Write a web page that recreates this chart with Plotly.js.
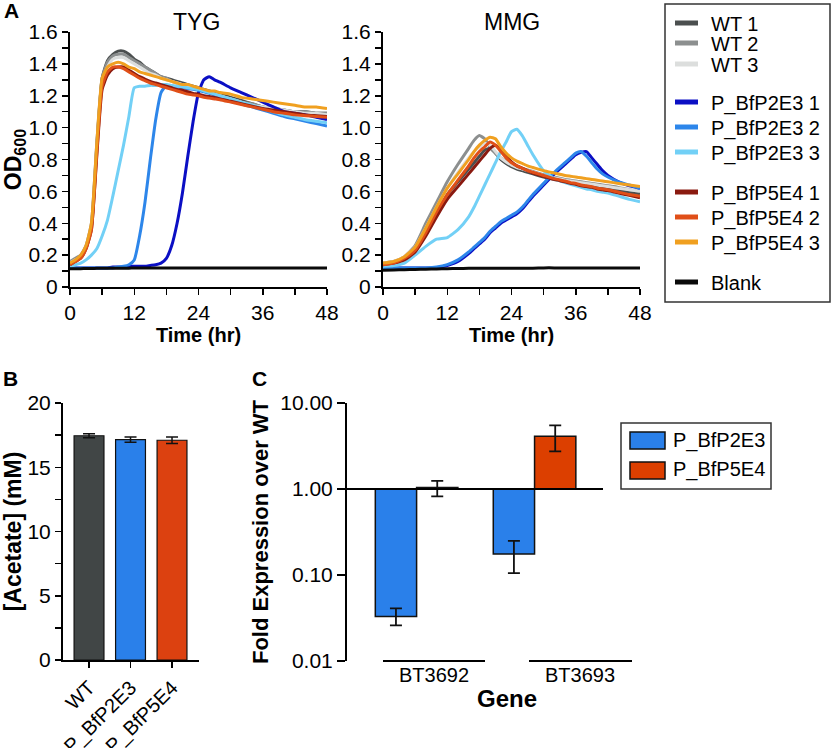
<!DOCTYPE html>
<html>
<head>
<meta charset="utf-8">
<script src="https://cdn.plot.ly/plotly-3.0.1.min.js"></script>
<style>html,body{margin:0;padding:0;background:#fff;}#chart{width:831px;height:748px;}</style>
</head>
<body>
<div id="chart"></div>
<script>
// ---------- DATA ----------
const seriesNames = ['WT 1','WT 2','WT 3','P_BfP2E3 1','P_BfP2E3 2','P_BfP2E3 3','P_BfP5E4 1','P_BfP5E4 2','P_BfP5E4 3','Blank'];

// Panel A, TYG medium (OD600 vs time, hr)
const tygTime = [0,1,2,3,4,5,6,7,8,9,10,11,12,13,14,15,16,17,18,19,20,21,22,23,24,25,26,27,28,30,32,34,36,38,40,42,44,46,48];
const tygWT1 = [0.15,0.17,0.19,0.25,0.38,0.88,1.31,1.42,1.46,1.48,1.48,1.46,1.43,1.41,1.38,1.36,1.34,1.32,1.31,1.30,1.29,1.28,1.27,1.26,1.25,1.24,1.23,1.22,1.21,1.19,1.17,1.15,1.13,1.12,1.11,1.10,1.10,1.09,1.09];
const tygWT2 = [0.16,0.18,0.20,0.26,0.40,0.90,1.31,1.41,1.45,1.46,1.46,1.44,1.42,1.40,1.38,1.36,1.34,1.32,1.31,1.29,1.28,1.27,1.26,1.25,1.24,1.23,1.22,1.21,1.20,1.18,1.16,1.15,1.13,1.12,1.11,1.10,1.10,1.09,1.09];
const tygWT3 = [0.15,0.17,0.19,0.25,0.38,0.86,1.28,1.38,1.43,1.44,1.44,1.42,1.40,1.38,1.36,1.34,1.33,1.31,1.30,1.29,1.28,1.27,1.26,1.25,1.24,1.23,1.22,1.21,1.20,1.18,1.16,1.14,1.13,1.12,1.11,1.10,1.09,1.09,1.08];
const tygP2E3_1 = [0.12,0.12,0.12,0.12,0.12,0.12,0.12,0.12,0.125,0.125,0.125,0.13,0.13,0.13,0.13,0.135,0.14,0.15,0.18,0.26,0.40,0.59,0.82,1.04,1.22,1.30,1.32,1.30,1.285,1.25,1.22,1.19,1.16,1.13,1.10,1.09,1.08,1.065,1.05];
const tygP2E3_2 = [0.12,0.12,0.12,0.12,0.12,0.12,0.12,0.12,0.12,0.125,0.13,0.14,0.17,0.32,0.53,0.80,1.05,1.22,1.265,1.26,1.255,1.25,1.245,1.24,1.235,1.225,1.215,1.205,1.195,1.175,1.15,1.13,1.11,1.09,1.07,1.055,1.04,1.025,1.01];
const tygP2E3_3 = [0.13,0.14,0.15,0.17,0.20,0.24,0.32,0.42,0.57,0.73,0.89,1.07,1.25,1.26,1.26,1.265,1.265,1.27,1.27,1.265,1.26,1.255,1.25,1.245,1.24,1.23,1.22,1.21,1.20,1.18,1.16,1.14,1.12,1.10,1.08,1.065,1.05,1.04,1.03];
const tygP5E4_1 = [0.14,0.16,0.18,0.24,0.36,0.82,1.24,1.33,1.37,1.38,1.38,1.36,1.34,1.32,1.305,1.29,1.28,1.27,1.26,1.25,1.24,1.235,1.225,1.215,1.21,1.20,1.195,1.19,1.18,1.165,1.15,1.135,1.12,1.11,1.10,1.09,1.08,1.075,1.07];
const tygP5E4_2 = [0.14,0.16,0.18,0.24,0.36,0.84,1.26,1.35,1.38,1.38,1.37,1.35,1.33,1.31,1.295,1.28,1.27,1.26,1.25,1.24,1.23,1.22,1.21,1.205,1.20,1.19,1.185,1.18,1.175,1.16,1.145,1.13,1.115,1.10,1.09,1.08,1.075,1.07,1.065];
const tygP5E4_3 = [0.15,0.17,0.20,0.26,0.40,0.90,1.31,1.38,1.40,1.41,1.40,1.38,1.37,1.35,1.34,1.33,1.32,1.31,1.30,1.29,1.28,1.27,1.27,1.26,1.25,1.24,1.23,1.23,1.22,1.21,1.19,1.18,1.17,1.16,1.15,1.14,1.13,1.13,1.12];
const tygBlank = [0.115,0.115,0.115,0.116,0.116,0.117,0.117,0.117,0.118,0.118,0.118,0.118,0.119,0.119,0.119,0.119,0.12,0.12,0.12,0.12,0.12,0.12,0.12,0.12,0.12,0.12,0.12,0.12,0.12,0.12,0.12,0.12,0.12,0.12,0.12,0.12,0.12,0.12,0.12];

// Panel A, MMG medium
const mmgTime = [0,2,4,6,8,10,12,14,16,17,18,19,20,21,22,23,24,25,26,27,28,30,32,34,35,36,37,38,39,40,41,42,44,46,48];
const mmgWT1 = [0.14,0.15,0.18,0.23,0.34,0.46,0.58,0.66,0.74,0.78,0.82,0.86,0.87,0.84,0.80,0.775,0.755,0.74,0.73,0.72,0.71,0.69,0.675,0.66,0.655,0.65,0.645,0.64,0.635,0.63,0.625,0.62,0.605,0.595,0.585];
const mmgWT2 = [0.15,0.16,0.19,0.26,0.40,0.53,0.66,0.77,0.87,0.92,0.95,0.93,0.88,0.84,0.81,0.79,0.77,0.755,0.745,0.735,0.725,0.705,0.69,0.675,0.67,0.665,0.66,0.655,0.65,0.645,0.64,0.635,0.625,0.61,0.60];
const mmgWT3 = [0.15,0.16,0.19,0.25,0.37,0.50,0.62,0.72,0.81,0.85,0.88,0.90,0.89,0.85,0.81,0.785,0.765,0.75,0.74,0.73,0.72,0.70,0.685,0.67,0.665,0.66,0.655,0.65,0.645,0.64,0.635,0.63,0.62,0.61,0.60];
const mmgP2E3_1 = [0.12,0.12,0.12,0.12,0.12,0.12,0.135,0.16,0.21,0.24,0.27,0.30,0.34,0.37,0.40,0.42,0.44,0.46,0.49,0.53,0.57,0.64,0.71,0.77,0.80,0.83,0.845,0.85,0.81,0.77,0.73,0.70,0.66,0.635,0.62];
const mmgP2E3_2 = [0.12,0.12,0.12,0.12,0.12,0.125,0.14,0.17,0.22,0.25,0.28,0.31,0.35,0.38,0.41,0.43,0.45,0.47,0.50,0.54,0.58,0.65,0.72,0.78,0.81,0.84,0.85,0.82,0.78,0.74,0.71,0.69,0.66,0.64,0.62];
const mmgP2E3_3 = [0.13,0.135,0.15,0.20,0.255,0.30,0.31,0.36,0.44,0.50,0.57,0.64,0.71,0.78,0.85,0.91,0.975,0.99,0.95,0.89,0.83,0.73,0.68,0.655,0.645,0.635,0.625,0.615,0.61,0.60,0.595,0.59,0.57,0.55,0.535];
const mmgP5E4_1 = [0.14,0.15,0.17,0.22,0.32,0.44,0.55,0.63,0.71,0.75,0.79,0.83,0.87,0.89,0.86,0.82,0.785,0.76,0.745,0.73,0.715,0.695,0.675,0.66,0.65,0.645,0.635,0.63,0.625,0.615,0.61,0.605,0.59,0.575,0.56];
const mmgP5E4_2 = [0.14,0.15,0.18,0.23,0.34,0.47,0.58,0.67,0.76,0.81,0.85,0.88,0.91,0.89,0.85,0.81,0.78,0.76,0.745,0.73,0.72,0.70,0.68,0.665,0.655,0.65,0.64,0.635,0.63,0.62,0.615,0.61,0.595,0.58,0.57];
const mmgP5E4_3 = [0.15,0.16,0.19,0.25,0.37,0.50,0.62,0.71,0.80,0.85,0.89,0.92,0.94,0.93,0.88,0.84,0.81,0.79,0.775,0.76,0.75,0.73,0.715,0.70,0.695,0.69,0.685,0.68,0.675,0.67,0.665,0.66,0.65,0.64,0.63];
const mmgBlank = [0.105,0.107,0.109,0.11,0.112,0.113,0.115,0.116,0.117,0.118,0.118,0.118,0.118,0.118,0.118,0.118,0.118,0.118,0.118,0.118,0.118,0.12,0.12,0.12,0.12,0.12,0.12,0.12,0.12,0.12,0.12,0.12,0.12,0.12,0.12];

// Panel B, acetate
const acetateStrains = ['WT','P_BfP2E3','P_BfP5E4'];
const acetateMean = [17.45,17.15,17.1];
const acetateErr = [0.15,0.2,0.25];

// Panel C, qPCR fold expression over WT
const genes = ['BT3692','BT3693'];
const strainsC = ['P_BfP2E3','P_BfP5E4'];
const foldP2E3 = [0.033,0.175];
const foldP2E3Hi = [0.041,0.25];
const foldP2E3Lo = [0.026,0.105];
const foldP5E4 = [1.04,4.1];
const foldP5E4Hi = [1.24,5.5];
const foldP5E4Lo = [0.82,2.74];

// ---------- STYLE ----------
const FONT = 'Arial, "Liberation Sans", Helvetica, sans-serif';
const W = 831, H = 748;
const px = x => x / W;
const py = y => 1 - y / H;
const lineColors = ['#4b4f4f','#8c8f8f','#dcdedd','#0b0fc4','#2d86ea','#72d0f6','#8a1a10','#e04f18','#f0a020','#0a0a0a'];
const barColors = ['#2a80ea','#dc3f00'];

const tygSeries = [tygWT1,tygWT2,tygWT3,tygP2E3_1,tygP2E3_2,tygP2E3_3,tygP5E4_1,tygP5E4_2,tygP5E4_3,tygBlank];
const mmgSeries = [mmgWT1,mmgWT2,mmgWT3,mmgP2E3_1,mmgP2E3_2,mmgP2E3_3,mmgP5E4_1,mmgP5E4_2,mmgP5E4_3,mmgBlank];

const traces = [];
seriesNames.forEach((name, i) => {
  traces.push({
    type: 'scatter', mode: 'lines', x: tygTime, y: tygSeries[i], name: name,
    xaxis: 'x', yaxis: 'y', showlegend: false,
    line: {color: lineColors[i], width: 3, shape: 'spline', smoothing: 0.5}
  });
});
seriesNames.forEach((name, i) => {
  traces.push({
    type: 'scatter', mode: 'lines', x: mmgTime, y: mmgSeries[i], name: name,
    xaxis: 'x2', yaxis: 'y2', showlegend: false,
    line: {color: lineColors[i], width: 3, shape: 'spline', smoothing: 0.5}
  });
});

// Panel B bars
traces.push({
  type: 'bar', x: acetateStrains, y: acetateMean, xaxis: 'x3', yaxis: 'y3', showlegend: false,
  width: 0.72,
  marker: {color: ['#414646','#2a80ea','#dc4110'], line: {color: '#111', width: 1.2}},
  error_y: {type: 'data', array: acetateErr, visible: true, color: '#111', thickness: 1.5, width: 6}
});

// Panel C bars (log axis, bars drawn from 1.0)
const cTrace = (vals, hi, lo, color, name) => ({
  type: 'bar', x: genes, base: 1, y: vals.map(v => v - 1), name: name,
  xaxis: 'x4', yaxis: 'y4', showlegend: false,
  marker: {color: color, line: {color: '#111', width: 1.5}},
  error_y: {type: 'data', symmetric: false, visible: true,
    array: hi.map((h, k) => h - vals[k]), arrayminus: lo.map((l, k) => vals[k] - l),
    color: '#111', thickness: 1.8, width: 6}
});
traces.push(cTrace(foldP2E3, foldP2E3Hi, foldP2E3Lo, barColors[0], strainsC[0]));
traces.push(cTrace(foldP5E4, foldP5E4Hi, foldP5E4Lo, barColors[1], strainsC[1]));

// ---------- AXES ----------
const TICK = 21;
const baseAxis = {
  showline: true, linecolor: '#000', linewidth: 2, ticks: 'outside', ticklen: 6, tickwidth: 1.5,
  tickcolor: '#000', showgrid: false, zeroline: false, fixedrange: true,
  tickfont: {family: FONT, size: TICK, color: '#000'}
};
const minorTicks = vals => ({tickmode: 'array', tickvals: vals, ticks: 'outside', ticklen: 6, tickwidth: 1.5, tickcolor: '#000', showgrid: false});

const odTicks = [0,0.2,0.4,0.6,0.8,1.0,1.2,1.4,1.6];
const odLabels = ['0','0.2','0.4','0.6','0.8','1.0','1.2','1.4','1.6'];
const odMinor = [0.1,0.3,0.5,0.7,0.9,1.1,1.3,1.5];
const timeTicks = [0,12,24,36,48];
const timeMinor = [6,18,30,42];

const timeAxis = (dom, anchor) => Object.assign({}, baseAxis, {
  domain: dom, anchor: anchor, range: [0, 48], tickmode: 'array', tickvals: timeTicks,
  minor: minorTicks(timeMinor),
  title: {text: '<b>Time (hr)</b>', font: {family: FONT, size: 20, color: '#000'}, standoff: 4}
});
const odAxis = (dom, anchor, withTitle) => {
  const a = Object.assign({}, baseAxis, {
    domain: dom, anchor: anchor, range: [0, 1.6], tickmode: 'array', tickvals: odTicks, ticktext: odLabels,
    minor: minorTicks(odMinor)
  });
  if (withTitle) a.title = {text: '<b>OD<sub>600</sub></b>', font: {family: FONT, size: 23, color: '#000'}, standoff: 4};
  return a;
};

const ann = (text, x, y, size, extra) => Object.assign({
  text: text, x: px(x), y: py(y), xref: 'paper', yref: 'paper', xanchor: 'center', yanchor: 'middle',
  showarrow: false, font: {family: FONT, size: size, color: '#000'}
}, extra || {});

// legend for panel A (line swatches + labels), positions in page pixels
const legendRowsA = [23, 43, 64, 102, 127, 152, 192, 217, 242, 282];
const shapes = [
  {type: 'line', xref: 'x4 domain', yref: 'y4', x0: 0, x1: (603 - 347) / 285, y0: 1, y1: 1, line: {color: '#000', width: 2}},
  {type: 'line', xref: 'paper', yref: 'paper', x0: px(383), x1: px(485), y0: py(661), y1: py(661), line: {color: '#000', width: 2}},
  {type: 'line', xref: 'paper', yref: 'paper', x0: px(529), x1: px(632), y0: py(661), y1: py(661), line: {color: '#000', width: 2}},
  {type: 'rect', xref: 'paper', yref: 'paper', x0: px(665), x1: px(830), y0: py(302), y1: py(4), line: {color: '#333', width: 1.5}, fillcolor: 'rgba(0,0,0,0)'},
  {type: 'rect', xref: 'paper', yref: 'paper', x0: px(621), x1: px(771), y0: py(489), y1: py(423), line: {color: '#333', width: 1.5}, fillcolor: 'rgba(0,0,0,0)'},
  {type: 'rect', xref: 'paper', yref: 'paper', x0: px(630), x1: px(665), y0: py(449), y1: py(432), line: {color: '#111', width: 1.5}, fillcolor: barColors[0]},
  {type: 'rect', xref: 'paper', yref: 'paper', x0: px(630), x1: px(665), y0: py(479), y1: py(462), line: {color: '#111', width: 1.5}, fillcolor: barColors[1]}
];
const annotations = [
  ann('<b>A</b>', 11, 11, 21),
  ann('<b>B</b>', 10, 378, 21),
  ann('<b>C</b>', 259, 378, 21),
  ann('TYG', 196, 22, 23),
  ann('MMG', 512, 22, 23),
  ann(genes[0], 434, 675, 20),
  ann(genes[1], 580, 675, 20),
  ann('<b>Gene</b>', 507, 698, 24),
  ann(strainsC[0], 671, 440, 20, {xanchor: 'left'}),
  ann(strainsC[1], 671, 470, 20, {xanchor: 'left'})
];
seriesNames.forEach((name, i) => {
  const yy = legendRowsA[i];
  shapes.push({type: 'line', xref: 'paper', yref: 'paper', x0: px(675), x1: px(698), y0: py(yy), y1: py(yy), line: {color: lineColors[i], width: 5}});
  annotations.push(ann(name, 709, yy + 1, 20, {xanchor: 'left'}));
});

const layout = {
  width: W, height: H, margin: {l: 0, r: 0, t: 0, b: 0},
  paper_bgcolor: '#fff', plot_bgcolor: '#fff',
  font: {family: FONT, color: '#000'},
  showlegend: false,
  barmode: 'group', bargap: 0.3, bargroupgap: 0,
  xaxis: timeAxis([px(70), px(327)], 'y'),
  yaxis: odAxis([py(287), py(32)], 'x', true),
  xaxis2: timeAxis([px(383), px(640)], 'y2'),
  yaxis2: odAxis([py(287), py(32)], 'x2', false),
  xaxis3: Object.assign({}, baseAxis, {
    domain: [px(63), px(199)], anchor: 'y3', type: 'category', range: [-0.627, 2.65],
    tickangle: -45, tickfont: {family: FONT, size: 20, color: '#000'}
  }),
  yaxis3: Object.assign({}, baseAxis, {
    domain: [py(660), py(403)], anchor: 'x3', range: [0, 20], tickmode: 'array', tickvals: [0,5,10,15,20],
    minor: minorTicks([2.5,7.5,12.5,17.5]),
    title: {text: '<b>[Acetate] (mM)</b>', font: {family: FONT, size: 23, color: '#000'}, standoff: 6}
  }),
  xaxis4: Object.assign({}, baseAxis, {
    domain: [px(347), px(632)], anchor: 'y4', type: 'category', range: [-0.59, 1.826],
    showline: false, ticks: '', showticklabels: false
  }),
  yaxis4: Object.assign({}, baseAxis, {
    domain: [py(661), py(403)], anchor: 'x4', type: 'log', range: [-2, 1], ticklen: 8,
    tickmode: 'array', tickvals: [0.01,0.1,1,10], ticktext: ['0.01','0.10','1.00','10.00'],
    title: {text: '<b>Fold Expression over WT</b>', font: {family: FONT, size: 22, color: '#000'}, standoff: 6}
  }),
  shapes: shapes,
  annotations: annotations
};

Plotly.newPlot('chart', traces, layout, {displayModeBar: false, staticPlot: true});
</script>
</body>
</html>
